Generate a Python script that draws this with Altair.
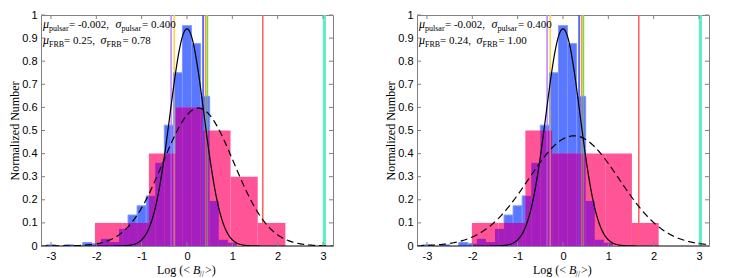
import altair as alt
import numpy as np
import pandas as pd

# ---------------- data ----------------
W, H = 292, 231
X_DOMAIN = [-3.22, 3.22]
Y_DOMAIN = [0, 1]

x_tick_values = [-3, -2, -1, 0, 1, 2, 3]
y_tick_values = [0, 0.1, 0.2, 0.3, 0.4, 0.5, 0.6, 0.7, 0.8, 0.9, 1.0]

# pulsar histogram (identical in both panels)
pulsar_lo = [-3.1, -2.7, -2.3, -2.1, -1.9, -1.7, -1.5, -1.3, -1.1, -0.9, -0.7,
             -0.5, -0.3, -0.1, 0.1, 0.3, 0.5, 0.7, 0.9]
pulsar_hi = [-2.9, -2.5, -2.1, -1.9, -1.7, -1.5, -1.3, -1.1, -0.9, -0.7, -0.5,
             -0.3, -0.1, 0.1, 0.3, 0.5, 0.7, 0.9, 1.1]
pulsar_height = [0.005, 0.005, 0.015, 0.01, 0.031, 0.017, 0.074, 0.134, 0.174,
                 0.217, 0.36, 0.523, 0.75, 0.954, 0.876, 0.648, 0.195, 0.027, 0.014]

# FRB histograms
frb_edges_left = [-2.03, -1.43, -0.84, -0.25, 0.35, 0.96, 1.56, 2.17]
frb_height_left = [0.1, 0.1, 0.4, 0.6, 0.5, 0.3, 0.1]
frb_edges_right = [-2.01, -1.42, -0.83, -0.24, 0.35, 0.93, 1.52, 2.11]
frb_height_right = [0.1, 0.1, 0.5, 0.4, 0.4, 0.4, 0.1]

# vertical marker lines
marker_x = [-0.35, -0.28, 0.355, 0.41, 0.45, 1.67, 3.03]
marker_color = ["#c58cff", "#ffd447", "#3f5fff", "#ff9a3c", "#7fd93f", "#ff6464", "#5ef0c6"]
marker_width = [1.5, 1.5, 1.5, 1.5, 1.5, 1.5, 3]

# fitted curves as seen in the picture: (peak, centre, width)
pulsar_curve = (0.94, 0.0, 0.375)
frb_curve_left = (0.597, 0.25, 0.78)
frb_curve_right = (0.477, 0.24, 1.00)

pulsar_text = ("-0.002,", "0.400")
frb_text_left = ("0.25,", "0.78")
frb_text_right = ("0.24,", "1.00")

BLUE = "#5a78ff"
BLUE_EDGE = "#7f96ff"
PINK = "#ff5596"
PURPLE = "#a51ebe"
BOX = "#808080"

# ---------------- helpers ----------------
XS = alt.Scale(domain=X_DOMAIN, nice=False, zero=False)
YS = alt.Scale(domain=Y_DOMAIN, nice=False, zero=False)
XAX = alt.Axis(values=x_tick_values, labelExpr="datum.value + ''", title=None,
               grid=False, domain=False, ticks=False, labelPadding=4,
               labelFontSize=11, labelFont="Liberation Sans", labelColor="black",
               labelFlush=False)
YAX = alt.Axis(values=y_tick_values,
               labelExpr="datum.value == 0 ? '0' : datum.value == 1 ? '1' : format(datum.value, '.1f')",
               title="Normalized Number", titleFont="Liberation Serif", titleFontSize=12,
               titleFontWeight="normal", titleColor="black", titlePadding=0,
               grid=False, domain=False, ticks=False, labelPadding=4,
               labelFontSize=11, labelFont="Liberation Sans", labelColor="black",
               labelFlush=False)


def xenc(field):
    return alt.X(field, type="quantitative", scale=XS, axis=XAX)


def yenc(field):
    return alt.Y(field, type="quantitative", scale=YS, axis=YAX)


def overlap(lo1, hi1, h1, lo2, hi2, h2):
    rows = []
    for a, b, h in zip(lo1, hi1, h1):
        for c, d, k in zip(lo2, hi2, h2):
            l, r = max(a, c), min(b, d)
            if r > l:
                rows.append({"lo": l, "hi": r, "h": min(h, k)})
    return pd.DataFrame(rows)


def curve_df(params):
    peak, centre, width = params
    xs = np.linspace(X_DOMAIN[0], X_DOMAIN[1], 400)
    return pd.DataFrame({"x": xs, "y": peak * np.exp(-(xs - centre) ** 2 / (2 * width ** 2))})


ONE = pd.DataFrame({"a": [0]})


def seg(text, x, y, size, italic=False):
    return alt.Chart(ONE).mark_text(
        text=text, align="left", baseline="alphabetic", fontSize=size,
        font="Liberation Serif", fontStyle="italic" if italic else "normal", color="black"
    ).encode(x=alt.value(x), y=alt.value(y))


def panel(frb_edges, frb_height, frb_curve, frb_text):
    pulsar_df = pd.DataFrame({"lo": pulsar_lo, "hi": pulsar_hi, "h": pulsar_height})
    frb_df = pd.DataFrame({"lo": frb_edges[:-1], "hi": frb_edges[1:], "h": frb_height})
    ov_df = overlap(pulsar_lo, pulsar_hi, pulsar_height, frb_edges[:-1], frb_edges[1:], frb_height)

    def rects(df, color, **kw):
        return alt.Chart(df).mark_rect(color=color, **kw).encode(
            x=xenc("lo"), x2="hi", y=yenc("h"), y2=alt.datum(0))

    marker_df = pd.DataFrame({"x": marker_x, "c": marker_color, "w": marker_width})

    def lines(opacity):
        return alt.Chart(marker_df).mark_rule(opacity=opacity).encode(
            x=xenc("x"), color=alt.Color("c:N", scale=None),
            strokeWidth=alt.StrokeWidth("w:Q", scale=None))

    solid = alt.Chart(curve_df(pulsar_curve)).mark_line(color="black", strokeWidth=1.2, clip=True).encode(
        x=xenc("x"), y=yenc("y"))
    dashed = alt.Chart(curve_df(frb_curve)).mark_line(color="black", strokeWidth=1.2, strokeDash=[7, 4], clip=True).encode(
        x=xenc("x"), y=yenc("y"))

    xt = pd.DataFrame({"v": x_tick_values})
    yt = pd.DataFrame({"v": y_tick_values})
    tb = alt.Chart(xt).mark_rule(color=BOX).encode(x=xenc("v"), y=alt.value(H), y2=alt.value(H - 4))
    tt = alt.Chart(xt).mark_rule(color=BOX).encode(x=xenc("v"), y=alt.value(0), y2=alt.value(4))
    tl = alt.Chart(yt).mark_rule(color=BOX).encode(y=yenc("v"), x=alt.value(0), x2=alt.value(4))
    tr = alt.Chart(yt).mark_rule(color=BOX).encode(y=yenc("v"), x=alt.value(W), x2=alt.value(W - 4))

    y1, y2 = 12.5, 28.5
    ty = H + 27.5
    texts = [
        seg("\u03bc", 2, y1, 12, True), seg("pulsar", 8, y1 + 3, 8), seg("= " + pulsar_text[0], 28, y1, 11),
        seg("\u03c3", 74.5, y1, 12, True), seg("pulsar", 80.5, y1 + 3, 8), seg("= " + pulsar_text[1], 101, y1, 11),
        seg("\u03bc", 2, y2, 12, True), seg("FRB", 8, y2 + 3, 8), seg("= " + frb_text[0], 23, y2, 11),
        seg("\u03c3", 59.5, y2, 12, True), seg("FRB", 65.5, y2 + 3, 8), seg("= " + frb_text[1], 81.5, y2, 11),
        # x-axis title
        seg("Log (<", 116, ty, 12), seg("B", 152, ty, 12, True),
        seg("//", 158.5, ty + 3.5, 8), seg(">)", 164, ty, 12),
    ]

    return alt.layer(
        lines(1.0),
        rects(pulsar_df, BLUE, stroke=BLUE_EDGE, strokeWidth=1),
        rects(frb_df, PINK), rects(ov_df, PURPLE),
        lines(0.45), solid, dashed, tb, tt, tl, tr, *texts
    ).properties(width=W, height=H)


left = panel(frb_edges_left, frb_height_left, frb_curve_left, frb_text_left)
right = panel(frb_edges_right, frb_height_right, frb_curve_right, frb_text_right)

chart = alt.hconcat(left, right, spacing=50).properties(padding=0).configure_view(
    stroke=BOX, strokeWidth=1)

chart.save("out.html", embed_options={"renderer": "svg", "actions": False})
